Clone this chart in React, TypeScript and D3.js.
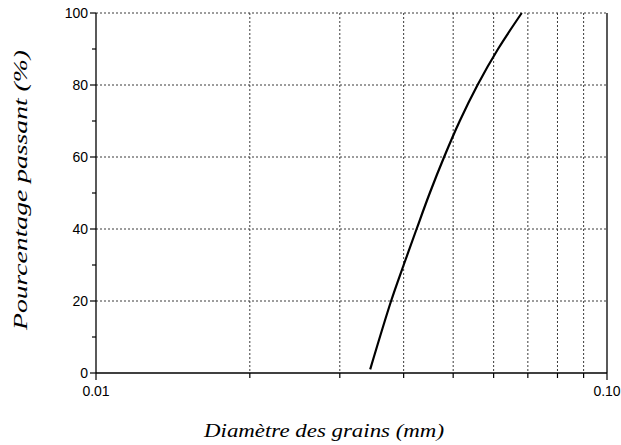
import * as d3 from 'd3';

const WIDTH = 621;
const HEIGHT = 445;
const MARGIN = { top: 13, right: 14, bottom: 72, left: 96 };

// grain size curve (diameter in mm, % passing)
const diameters = [0.0344, 0.0378, 0.0400, 0.0424, 0.0450, 0.0480, 0.0515, 0.0558, 0.0612, 0.0681];
const passing = [1, 20, 30, 40, 50, 60, 70, 80, 90, 100];

const xMajorTicks = [0.01, 0.1];
const xMajorLabels = ['0.01', '0.10'];
const xMinorTicks = [0.02, 0.03, 0.04, 0.05, 0.06, 0.07, 0.08, 0.09];
const yMajorTicks = [0, 20, 40, 60, 80, 100];
const yMinorTicks = [10, 30, 50, 70, 90];

const X_TITLE = 'Diamètre des grains (mm)';
const Y_TITLE = 'Pourcentage passant (%)';

const TICK_FONT = '"Liberation Sans", Arial, sans-serif';
const TITLE_FONT = '"Liberation Serif", "DejaVu Serif", serif';

export default function App() {
    const boundsWidth = WIDTH - MARGIN.left - MARGIN.right;
    const boundsHeight = HEIGHT - MARGIN.top - MARGIN.bottom;

    const xScale = d3.scaleLog().domain([0.01, 0.1]).range([0, boundsWidth]);
    const yScale = d3.scaleLinear().domain([0, 100]).range([boundsHeight, 0]);

    const points: [number, number][] = diameters.map((d, i) => [xScale(d), yScale(passing[i])]);
    const line = d3.line().curve(d3.curveCatmullRom.alpha(0.5))(points) ?? '';

    const gridColor = '#3a3a3a';

    return (
        <svg width={WIDTH} height={HEIGHT} style={{ position: 'absolute', left: 0, top: 0, background: '#fff' }}>
            <g transform={`translate(${MARGIN.left},${MARGIN.top})`}>
                {/* horizontal grid */}
                {yMajorTicks.filter(v => v > 0).map((v, i) => (
                    <line key={'hg' + i} x1={0} x2={boundsWidth} y1={yScale(v)} y2={yScale(v)}
                        stroke={gridColor} strokeWidth={1} strokeDasharray="2,2" />
                ))}
                {/* vertical grid */}
                {xMinorTicks.map((v, i) => (
                    <line key={'vg' + i} x1={xScale(v)} x2={xScale(v)} y1={0} y2={boundsHeight}
                        stroke={gridColor} strokeWidth={1} strokeDasharray="2,2" />
                ))}
                {/* right border */}
                <line x1={boundsWidth} x2={boundsWidth} y1={0} y2={boundsHeight} stroke="#000" strokeWidth={1.3} />

                {/* y axis */}
                <line x1={0} x2={0} y1={0} y2={boundsHeight} stroke="#000" strokeWidth={1.3} />
                {yMajorTicks.map((v, i) => (
                    <g key={'yt' + i}>
                        <line x1={-6} x2={0} y1={yScale(v)} y2={yScale(v)} stroke="#000" strokeWidth={1.2} />
                        <text x={-8} y={yScale(v)} textAnchor="end" dominantBaseline="central"
                            fontSize={14} fontFamily={TICK_FONT}>{v}</text>
                    </g>
                ))}
                {yMinorTicks.map((v, i) => (
                    <line key={'ym' + i} x1={-4} x2={0} y1={yScale(v)} y2={yScale(v)} stroke="#000" strokeWidth={1.2} />
                ))}

                {/* x axis */}
                <line x1={0} x2={boundsWidth} y1={boundsHeight} y2={boundsHeight} stroke="#000" strokeWidth={1.3} />
                {xMajorTicks.map((v, i) => (
                    <g key={'xt' + i}>
                        <line x1={xScale(v)} x2={xScale(v)} y1={boundsHeight} y2={boundsHeight + 7} stroke="#000" strokeWidth={1.2} />
                        <text x={xScale(v)} y={boundsHeight + 23} textAnchor="middle"
                            fontSize={14} fontFamily={TICK_FONT}>{xMajorLabels[i]}</text>
                    </g>
                ))}
                {xMinorTicks.map((v, i) => (
                    <line key={'xm' + i} x1={xScale(v)} x2={xScale(v)} y1={boundsHeight} y2={boundsHeight + 5} stroke="#000" strokeWidth={1.2} />
                ))}

                {/* curve */}
                <path d={line} fill="none" stroke="#000" strokeWidth={2.2} strokeLinejoin="round" />
            </g>

            {/* titles */}
            <text x={324} y={437} textAnchor="middle" fontSize={19} fontStyle="italic" fontFamily={TITLE_FONT}
                textLength={240} lengthAdjust="spacingAndGlyphs">{X_TITLE}</text>
            <text transform={`translate(27,190) rotate(-90)`} textAnchor="middle" fontSize={19} fontStyle="italic"
                fontFamily={TITLE_FONT} textLength={280} lengthAdjust="spacingAndGlyphs">{Y_TITLE}</text>
        </svg>
    );
}
